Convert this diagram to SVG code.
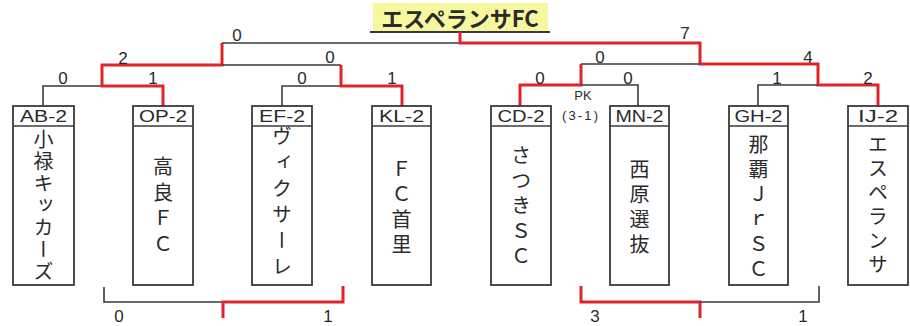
<svg xmlns="http://www.w3.org/2000/svg" width="910" height="326" viewBox="0 0 910 326">
<style>
.k{stroke:#3a3a3a;stroke-width:1.6;fill:none}
.r{stroke:#e0242c;stroke-width:3;fill:none}
.box{fill:#fff;stroke:#3a3a3a;stroke-width:1.8}
.hd{font-family:"Liberation Sans","Noto Sans CJK JP",sans-serif;font-size:16px;fill:#2a2a2a;text-anchor:middle}
.nm{font-family:"Noto Sans CJK JP","Liberation Sans",sans-serif;font-size:20px;fill:#2a2a2a;text-anchor:middle;writing-mode:vertical-rl}
.sc{font-family:"Liberation Sans",sans-serif;font-size:17px;fill:#2a2a2a;text-anchor:middle}
.pk{font-family:"Liberation Sans","Noto Sans CJK JP",sans-serif;font-size:13px;fill:#2a2a2a;text-anchor:middle}
</style>
<rect width="910" height="326" fill="#fff"/>
<g id="title">
<rect x="373" y="3" width="175" height="28" fill="#f7f7a0"/>
<line x1="370" y1="32" x2="550" y2="32" stroke="#3a3a3a" stroke-width="2"/>
<text x="460" y="27" font-family="Noto Sans CJK JP,Liberation Sans,sans-serif" font-size="22" font-weight="bold" fill="#2a2a2a" text-anchor="middle">エスペランサFC</text>
</g>
<g id="connectors">
<path class="k" d="M43 106V86H102"/>
<path class="r" d="M163 106V86H102V65H222V43"/>
<path class="k" d="M222 65H341"/>
<path class="k" d="M222 43H460"/>
<path class="k" d="M282 106V86H341"/>
<path class="r" d="M402 106V86H341V65"/>
<path class="r" d="M460 32V43H700V64H818V85H878V106"/>
<path class="k" d="M581 64H700"/>
<path class="r" d="M520 106V85H581V64"/>
<path class="k" d="M581 85H638V106"/>
<path class="k" d="M758 106V85H818"/>
<path class="k" d="M104 287V302H223"/>
<path class="r" d="M343 286V302H223V318"/>
<path class="r" d="M581 286V302H700V318"/>
<path class="k" d="M700 302H819V286"/>
</g>
<g id="scores">
<text class="sc" x="237" y="41">0</text>
<text class="sc" x="685" y="39">7</text>
<text class="sc" x="123" y="64">2</text>
<text class="sc" x="330" y="63">0</text>
<text class="sc" x="600" y="63">0</text>
<text class="sc" x="808" y="63">4</text>
<text class="sc" x="63" y="84">0</text>
<text class="sc" x="153" y="84">1</text>
<text class="sc" x="302" y="84">0</text>
<text class="sc" x="392" y="84">1</text>
<text class="sc" x="540" y="84">0</text>
<text class="sc" x="628" y="84">0</text>
<text class="sc" x="777" y="84">1</text>
<text class="sc" x="868" y="84">2</text>
<text class="pk" x="583" y="100">PK</text>
<text class="pk" x="580" y="120" textLength="36" lengthAdjust="spacing">(3-1)</text>
<text class="sc" x="119" y="322">0</text>
<text class="sc" x="328" y="322">1</text>
<text class="sc" x="595" y="322">3</text>
<text class="sc" x="803" y="322">1</text>
</g>
<g id="AB">
<rect class="box" x="13" y="106" width="61" height="179"/><line class="k" x1="13" y1="126" x2="74" y2="126"/>
<text class="hd" x="43.5" y="122" textLength="47" lengthAdjust="spacingAndGlyphs">AB-2</text>
<text class="nm" x="43.5" y="206" font-size="18" letter-spacing="2">小禄キッカーズ</text>
</g>
<g id="OP">
<rect class="box" x="133" y="106" width="60" height="179"/><line class="k" x1="133" y1="126" x2="193" y2="126"/>
<text class="hd" x="163" y="122" textLength="48" lengthAdjust="spacingAndGlyphs">OP-2</text>
<text class="nm" x="163" y="208" font-size="21" letter-spacing="6">高良ＦＣ</text>
</g>
<g id="EF">
<rect class="box" x="252" y="106" width="60" height="179"/><line class="k" x1="252" y1="126" x2="312" y2="126"/>
<text class="hd" x="282" y="122" textLength="46" lengthAdjust="spacingAndGlyphs">EF-2</text>
<text class="nm" x="282" y="204" font-size="21" letter-spacing="6">ヴィクサーレ</text>
</g>
<g id="KL">
<rect class="box" x="372" y="106" width="59" height="179"/><line class="k" x1="372" y1="126" x2="431" y2="126"/>
<text class="hd" x="401.5" y="122" textLength="45" lengthAdjust="spacingAndGlyphs">KL-2</text>
<text class="nm" x="401.5" y="209" font-size="21" letter-spacing="5">ＦＣ首里</text>
</g>
<g id="CD">
<rect class="box" x="491" y="106" width="60" height="179"/><line class="k" x1="491" y1="126" x2="551" y2="126"/>
<text class="hd" x="521" y="122" textLength="47" lengthAdjust="spacingAndGlyphs">CD-2</text>
<text class="nm" x="521" y="208" font-size="21" letter-spacing="5">さつきＳＣ</text>
</g>
<g id="MN">
<rect class="box" x="610" y="106" width="59" height="179"/><line class="k" x1="610" y1="126" x2="669" y2="126"/>
<text class="hd" x="639.5" y="122" textLength="48" lengthAdjust="spacingAndGlyphs">MN-2</text>
<text class="nm" x="639.5" y="209" font-size="21" letter-spacing="5">西原選抜</text>
</g>
<g id="GH">
<rect class="box" x="729" y="106" width="59" height="179"/><line class="k" x1="729" y1="126" x2="788" y2="126"/>
<text class="hd" x="758.5" y="122" textLength="48" lengthAdjust="spacingAndGlyphs">GH-2</text>
<text class="nm" x="758.5" y="209" font-size="21" letter-spacing="5">那覇ＪｒＳＣ</text>
</g>
<g id="IJ">
<rect class="box" x="848" y="106" width="60" height="179"/><line class="k" x1="848" y1="126" x2="908" y2="126"/>
<text class="hd" x="878" y="122" textLength="40" lengthAdjust="spacingAndGlyphs">IJ-2</text>
<text class="nm" x="878" y="206" font-size="21" letter-spacing="4">エスペランサ</text>
</g>
</svg>
